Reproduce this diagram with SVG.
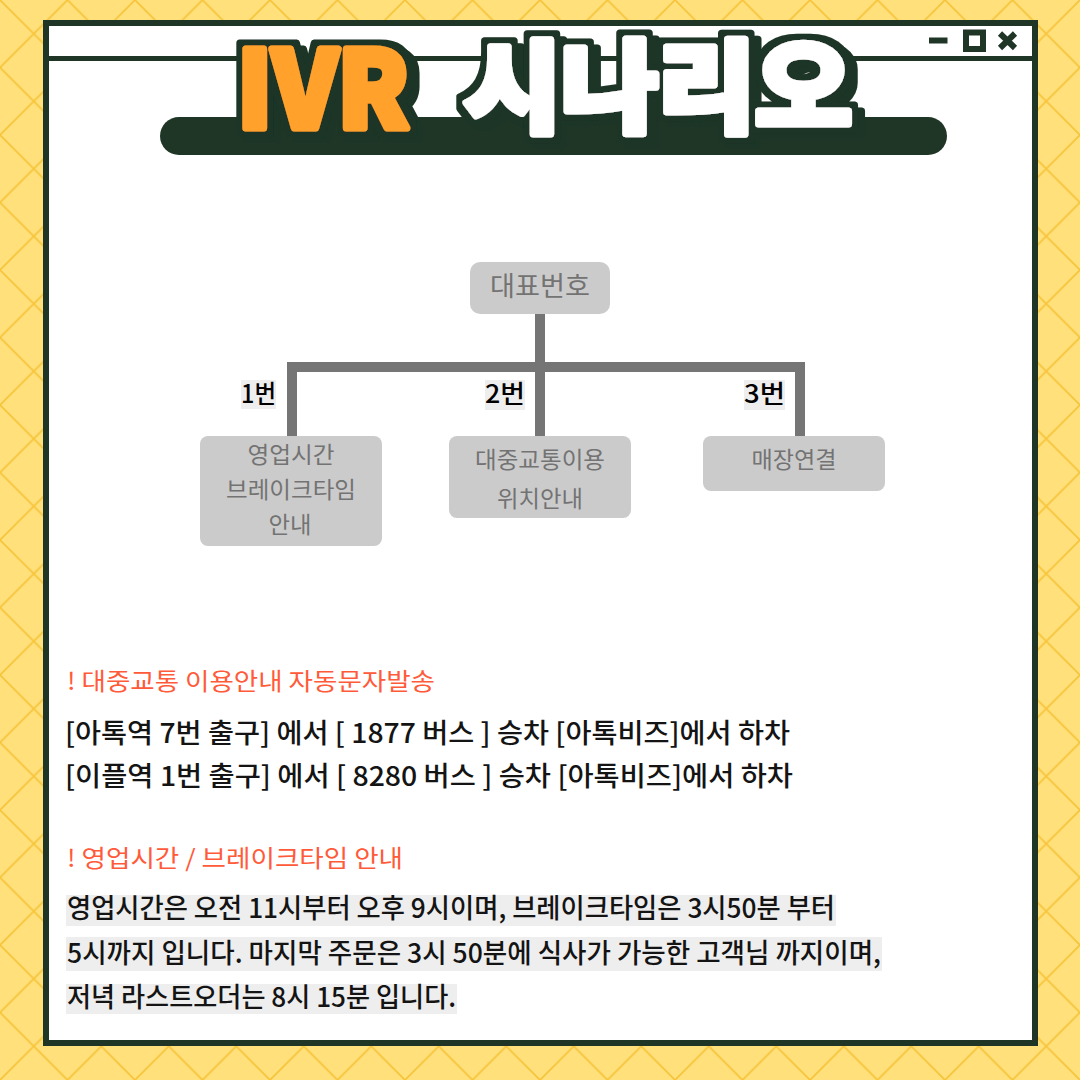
<svg xmlns="http://www.w3.org/2000/svg" width="1080" height="1080" viewBox="0 0 1080 1080">
<defs>
<pattern id="lattice" x="0" y="0" width="67.5" height="67.5" patternUnits="userSpaceOnUse">
<rect width="67.5" height="67.5" fill="#FFE07B"/>
<path d="M-2,-2 L69.5,69.5 M69.5,-2 L-2,69.5" stroke="#F6C53C" stroke-width="1.8" fill="none"/>
</pattern>
<filter id="outline" x="-20%" y="-30%" width="140%" height="160%">
<feMorphology in="SourceAlpha" operator="dilate" radius="6" result="dil"/>
<feFlood flood-color="#1F3626" result="dk"/>
<feComposite in="dk" in2="dil" operator="in" result="ring"/>
<feOffset in="ring" dx="7" dy="6" result="shadow"/>
<feMerge>
<feMergeNode in="shadow"/>
<feMergeNode in="ring"/>
<feMergeNode in="SourceGraphic"/>
</feMerge>
</filter>
<style>
.frame{fill:none;stroke:#1F3626;stroke-width:6}
.dark{fill:#1F3626}
.title{font-family:"Noto Sans CJK KR","Noto Sans",sans-serif;font-weight:900;stroke-width:7;stroke-linejoin:round;filter:url(#outline)}
.box{fill:#CBCBCB}
.boxtxt{font-family:"Noto Sans CJK KR","Noto Sans",sans-serif;font-weight:400;fill:#737373;text-anchor:middle}
.conn{stroke:#757575;stroke-width:10;fill:none;stroke-linecap:butt}
.lblbg{fill:#EEEEEE}
.lbl{font-family:"Noto Sans CJK KR","Noto Sans",sans-serif;font-weight:500;font-size:25px;fill:#000}
.head{font-family:"Noto Sans CJK KR","Noto Sans",sans-serif;font-weight:400;font-size:24px;fill:#FF5A3A}
.body{font-family:"Noto Sans CJK KR","Noto Sans",sans-serif;font-weight:500;font-size:27px;fill:#141414}
.hl{fill:#EEEEEE}
</style>
</defs>
<rect width="1080" height="1080" fill="url(#lattice)"/>
<g id="window">
<rect x="46" y="23" width="989" height="1020" fill="#FFFFFF"/>
<rect class="frame" x="46" y="23" width="989" height="1020"/>
<line x1="46" y1="58.5" x2="1035" y2="58.5" stroke="#1F3626" stroke-width="5"/>
<rect class="dark" x="929" y="37.5" width="18.5" height="6"/>
<rect x="966" y="32.5" width="17" height="16.5" fill="none" stroke="#1F3626" stroke-width="6"/>
<path d="M1000,33.5 L1015,48 M1015,33.5 L1000,48" stroke="#1F3626" stroke-width="6" fill="none"/>
</g>
<g id="title">
<rect class="dark" x="160" y="117" width="787" height="38" rx="19"/>
<text class="title" x="237" y="128" font-size="106" fill="#FFA12B" stroke="#FFA12B" textLength="172" lengthAdjust="spacingAndGlyphs">IVR</text>
<text class="title" x="464" y="124" font-size="100" fill="#FFFFFF" stroke="#FFFFFF" textLength="388" lengthAdjust="spacingAndGlyphs">시나리오</text>
</g>
<g id="connectors">
<line class="conn" x1="540" y1="314" x2="540" y2="367"/>
<polyline class="conn" points="292,437 292,367 800,367 800,437"/>
<line class="conn" x1="540" y1="367" x2="540" y2="437"/>
</g>
<g id="root">
<rect class="box" x="470" y="262" width="140" height="52" rx="10"/>
<text class="boxtxt" x="540" y="296" font-size="27" textLength="100" lengthAdjust="spacingAndGlyphs">대표번호</text>
</g>
<g id="label1">
<rect class="lblbg" x="241" y="380" width="35" height="29"/>
<text class="lbl" x="241" y="403" textLength="35" lengthAdjust="spacingAndGlyphs">1번</text>
</g>
<g id="label2">
<rect class="lblbg" x="485" y="380" width="40" height="30"/>
<text class="lbl" x="485" y="403" textLength="40" lengthAdjust="spacingAndGlyphs">2번</text>
</g>
<g id="label3">
<rect class="lblbg" x="744" y="380" width="41" height="30"/>
<text class="lbl" x="744" y="403" textLength="41" lengthAdjust="spacingAndGlyphs">3번</text>
</g>
<g id="node1">
<rect class="box" x="200" y="436" width="182" height="110" rx="8"/>
<text class="boxtxt" x="291" y="463" font-size="23" textLength="87" lengthAdjust="spacingAndGlyphs">영업시간</text>
<text class="boxtxt" x="291" y="498" font-size="23" textLength="130" lengthAdjust="spacingAndGlyphs">브레이크타임</text>
<text class="boxtxt" x="290" y="533" font-size="23" textLength="43" lengthAdjust="spacingAndGlyphs">안내</text>
</g>
<g id="node2">
<rect class="box" x="449" y="436" width="182" height="82" rx="8"/>
<text class="boxtxt" x="540" y="468" font-size="23" textLength="130" lengthAdjust="spacingAndGlyphs">대중교통이용</text>
<text class="boxtxt" x="540" y="507" font-size="23" textLength="86" lengthAdjust="spacingAndGlyphs">위치안내</text>
</g>
<g id="node3">
<rect class="box" x="703" y="436" width="182" height="55" rx="8"/>
<text class="boxtxt" x="794" y="468" font-size="23" textLength="85" lengthAdjust="spacingAndGlyphs">매장연결</text>
</g>
<g id="notes">
<text class="head" x="67" y="690" textLength="368" lengthAdjust="spacingAndGlyphs">! 대중교통 이용안내 자동문자발송</text>
<text class="body" x="65" y="743" textLength="725" lengthAdjust="spacingAndGlyphs">[아톡역 7번 출구] 에서 [ 1877 버스 ] 승차 [아톡비즈]에서 하차</text>
<text class="body" x="65" y="786" textLength="728" lengthAdjust="spacingAndGlyphs">[이플역 1번 출구] 에서 [ 8280 버스 ] 승차 [아톡비즈]에서 하차</text>
<text class="head" x="67" y="867" textLength="336" lengthAdjust="spacingAndGlyphs">! 영업시간 / 브레이크타임 안내</text>
<rect class="hl" x="66" y="895" width="770" height="31"/>
<rect class="hl" x="66" y="937" width="816" height="34"/>
<rect class="hl" x="66" y="984" width="391" height="30"/>
<text class="body" x="67" y="918" textLength="768" lengthAdjust="spacingAndGlyphs">영업시간은 오전 11시부터 오후 9시이며, 브레이크타임은 3시50분 부터</text>
<text class="body" x="67" y="963" textLength="814" lengthAdjust="spacingAndGlyphs">5시까지 입니다. 마지막 주문은 3시 50분에 식사가 가능한 고객님 까지이며,</text>
<text class="body" x="67" y="1007" textLength="389" lengthAdjust="spacingAndGlyphs">저녁 라스트오더는 8시 15분 입니다.</text>
</g>
</svg>
